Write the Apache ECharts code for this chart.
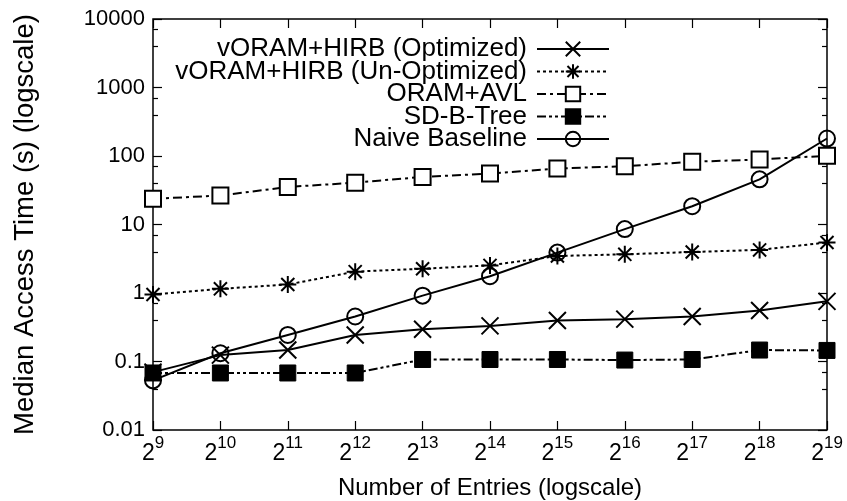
<!DOCTYPE html>
<html>
<head>
<meta charset="utf-8">
<script src="https://cdn.jsdelivr.net/npm/echarts@6/dist/echarts.min.js"></script>
<style>html,body{margin:0;padding:0;background:#fff}#c{width:847px;height:501px}</style>
</head>
<body>
<div id="c"></div>
<script>
const exponents = ['9','10','11','12','13','14','15','16','17','18','19'];
const yTickLabels = ['0.01','0.1','1','10','100','1000','10000'];
const optimized   = [0.070, 0.124, 0.147, 0.244, 0.296, 0.331, 0.396, 0.415, 0.454, 0.556, 0.755];
const unoptimized = [0.95, 1.15, 1.33, 2.05, 2.26, 2.53, 3.47, 3.67, 3.97, 4.26, 5.46];
const oramAvl     = [23.7, 26.5, 35.3, 40.8, 49.5, 55.3, 65.6, 71, 82.3, 89, 100.7];
const sdBTree     = [0.068, 0.068, 0.068, 0.068, 0.107, 0.107, 0.107, 0.105, 0.107, 0.147, 0.145];
const naive       = [0.053, 0.132, 0.244, 0.454, 0.915, 1.76, 3.89, 8.57, 18.5, 45.6, 180];
const names = ['vORAM+HIRB (Optimized)','vORAM+HIRB (Un-Optimized)','ORAM+AVL','SD-B-Tree','Naive Baseline'];

const FONT = 'Liberation Sans, Arial, Helvetica, sans-serif';
const crossPath = 'path://M0,0L10,10M10,0L0,10';
const starPath = 'path://M0,0L10,10M10,0L0,10M5,-1.5L5,11.5M-1.5,5L11.5,5';

const chart = echarts.init(document.getElementById('c'), null, {renderer:'canvas'});
function mkSeries(name, data, symbol, size, itemStyle, lineType) {
  return {
    name, type:'line', data, symbol, symbolSize:size, showSymbol:true,
    xAxisIndex:0, yAxisIndex:0,
    lineStyle:{color:'#000', width:2, type:lineType},
    itemStyle, emphasis:{disabled:true}, animation:false, z: 3
  };
}
const option = {
  animation:false,
  textStyle:{fontFamily:FONT},
  grid:{left:153, right:20, top:19, bottom:71, outerBoundsMode:'none', containLabel:false,
        show:true, borderColor:'#000', borderWidth:1.5, backgroundColor:'transparent'},
  legend:{
    orient:'vertical', align:'right', right:237, top:36, padding:0, itemGap:-3.5,
    itemWidth:72, itemHeight:18,
    textStyle:{fontFamily:FONT, fontSize:26, color:'#000', padding:[0,5,0,0]},
    data:names, selectedMode:false
  },
  xAxis:[{
    type:'category', data:exponents, boundaryGap:false,
    axisLine:{show:false},
    axisTick:{show:true, inside:true, length:9, interval:0, lineStyle:{color:'#000', width:1.2}},
    axisLabel:{margin:5, interval:0, formatter:(v)=>'{b|2}{s|'+v+'}',
      rich:{b:{fontSize:23, fontFamily:FONT, color:'#000', verticalAlign:'bottom', lineHeight:30},
            s:{fontSize:17, fontFamily:FONT, color:'#000', verticalAlign:'top', lineHeight:30, padding:[0,0,12,0]}}},
    splitLine:{show:false},
    name:'Number of Entries (logscale)', nameLocation:'middle', nameGap:46,
    nameTextStyle:{fontSize:24, color:'#000', fontFamily:FONT}
  },{
    type:'category', data:exponents, boundaryGap:false, position:'top',
    axisLine:{show:false}, axisLabel:{show:false},
    axisTick:{show:true, inside:true, length:9, interval:0, lineStyle:{color:'#000', width:1.2}},
    splitLine:{show:false}
  }],
  yAxis:[{
    type:'log', logBase:10, min:0.01, max:10000,
    axisLine:{show:false},
    axisTick:{show:true, inside:true, length:9, lineStyle:{color:'#000', width:1.2}},
    minorTick:{show:true, splitNumber:3, length:5, lineStyle:{color:'#000', width:1.2}},
    axisLabel:{margin:8, fontSize:22, color:'#000', fontFamily:FONT,
      formatter:(v)=>{ const e=Math.round(Math.log10(v)); return yTickLabels[e+2]; }},
    splitLine:{show:false},
    name:'Median Access Time (s) (logscale)', nameLocation:'middle', nameGap:114, nameRotate:90,
    nameTextStyle:{fontSize:27.5, color:'#000', fontFamily:FONT}
  },{
    type:'log', logBase:10, min:0.01, max:10000, position:'right',
    axisLine:{show:false}, axisLabel:{show:false},
    axisTick:{show:true, inside:true, length:9, lineStyle:{color:'#000', width:1.2}},
    minorTick:{show:true, splitNumber:3, length:5, lineStyle:{color:'#000', width:1.2}},
    splitLine:{show:false}
  }],
  series:[
    mkSeries(names[0], optimized, crossPath, 17, {color:'#000', borderColor:'#000', borderWidth:2}, 'solid'),
    mkSeries(names[1], unoptimized, starPath, 17, {color:'#000', borderColor:'#000', borderWidth:2}, [3,3]),
    mkSeries(names[2], oramAvl, 'rect', 16, {color:'#fff', borderColor:'#000', borderWidth:2}, [9,4,3,4]),
    mkSeries(names[3], sdBTree, 'rect', 16, {color:'#000', borderColor:'#000', borderWidth:1}, [9,3,3,3,3,3]),
    mkSeries(names[4], naive, 'circle', 16, {color:'rgba(255,255,255,0)', borderColor:'#000', borderWidth:2}, 'solid')
  ]
};
chart.setOption(option);
</script>
</body>
</html>
